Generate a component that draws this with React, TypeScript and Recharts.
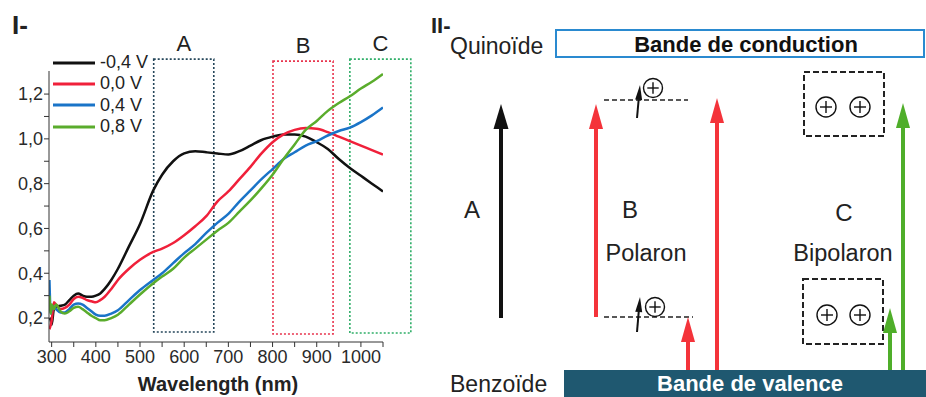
import { LineChart, Line, XAxis, YAxis, ReferenceArea } from "recharts";

const FONT = "'Liberation Sans', Arial, sans-serif";

// wavelengths (nm)
const wavelengths = [
  295, 298, 300, 305, 310, 320, 330, 340, 350, 360, 370, 380, 390, 400, 410,
  420, 435, 450, 475, 500, 530, 550, 575, 600, 625, 650, 675, 700, 725, 750,
  775, 800, 825, 850, 875, 900, 925, 950, 975, 1000, 1025, 1050,
];

const absM04 = [
  0.2, 0.19, 0.17, 0.24, 0.25, 0.255, 0.26, 0.28, 0.3, 0.31, 0.3, 0.295, 0.295,
  0.3, 0.31, 0.33, 0.37, 0.42, 0.52, 0.62, 0.77, 0.84, 0.9, 0.935, 0.945, 0.94,
  0.935, 0.93, 0.945, 0.97, 0.995, 1.01, 1.02, 1.02, 1.01, 0.985, 0.955, 0.91,
  0.87, 0.835, 0.8, 0.765,
];
const abs00 = [
  0.15, 0.17, 0.19, 0.27, 0.26, 0.24, 0.245, 0.26, 0.285, 0.295, 0.29, 0.28,
  0.275, 0.27, 0.28, 0.295, 0.33, 0.37, 0.42, 0.46, 0.495, 0.51, 0.535, 0.57,
  0.61, 0.655, 0.72, 0.765, 0.82, 0.875, 0.935, 0.985, 1.02, 1.04, 1.048,
  1.045, 1.03, 1.01, 0.99, 0.97, 0.95, 0.93,
];
const abs04 = [
  0.37, 0.22, 0.25, 0.25, 0.24, 0.225, 0.225, 0.24, 0.26, 0.265, 0.26, 0.245,
  0.23, 0.215, 0.21, 0.21, 0.22, 0.235, 0.28, 0.325, 0.37, 0.4, 0.445, 0.49,
  0.53, 0.58, 0.625, 0.665, 0.72, 0.77, 0.82, 0.865, 0.91, 0.94, 0.97, 0.99,
  1.015, 1.035, 1.05, 1.075, 1.105, 1.14,
];
const abs08 = [
  0.3, 0.22, 0.26, 0.24, 0.26, 0.23, 0.22, 0.23, 0.245, 0.25, 0.24, 0.225,
  0.21, 0.2, 0.19, 0.19, 0.2, 0.215, 0.26, 0.305, 0.355, 0.385, 0.42, 0.47,
  0.51, 0.55, 0.59, 0.625, 0.675, 0.725, 0.78, 0.84, 0.91, 0.975, 1.04, 1.08,
  1.125, 1.16, 1.19, 1.225, 1.255, 1.29,
];

const series = [
  { key: "m04", name: "-0,4 V", color: "#111111", values: absM04 },
  { key: "p00", name: "0,0 V", color: "#f0203a", values: abs00 },
  { key: "p04", name: "0,4 V", color: "#1a74c8", values: abs04 },
  { key: "p08", name: "0,8 V", color: "#5aac2c", values: abs08 },
];

const xTicks = [300, 350, 400, 450, 500, 550, 600, 650, 700, 750, 800, 850, 900, 950, 1000, 1050];
const yTicks = [0.2, 0.3, 0.4, 0.5, 0.6, 0.7, 0.8, 0.9, 1.0, 1.1, 1.2];
const yLabelled = [0.2, 0.4, 0.6, 0.8, 1.0, 1.2];

// dotted zones A, B, C (nm / absorbance)
const zones = [
  { label: "A", x1: 531, x2: 667, y1: 0.1375, y2: 1.356, color: "#24465a" },
  { label: "B", x1: 801, x2: 937, y1: 0.129, y2: 1.347, color: "#e8344e" },
  { label: "C", x1: 975, x2: 1113, y1: 0.133, y2: 1.356, color: "#2fae68" },
];

const data = wavelengths.map((w, i) => {
  const row: Record<string, number> = { w };
  series.forEach((s) => (row[s.key] = s.values[i]));
  return row;
});

function Arrow({ x, y1, y2, color, w = 4, hw = 15, hl = 25 }: any) {
  return (
    <g>
      <line x1={x} y1={y1} x2={x} y2={y2 + hl - 2} stroke={color} strokeWidth={w} />
      <polygon points={`${x},${y2} ${x - hw / 2},${y2 + hl} ${x + hw / 2},${y2 + hl}`} fill={color} />
    </g>
  );
}

function Spin({ x1, y1, x2, y2 }: any) {
  const ang = Math.atan2(y2 - y1, x2 - x1);
  const hl = 15;
  const hw = 3.5;
  const bx = x2 - hl * Math.cos(ang);
  const by = y2 - hl * Math.sin(ang);
  const px = -Math.sin(ang) * hw;
  const py = Math.cos(ang) * hw;
  return (
    <g>
      <line x1={x1} y1={y1} x2={bx} y2={by} stroke="#111" strokeWidth={2} />
      <polygon points={`${x2},${y2} ${bx + px},${by + py} ${bx - px},${by - py}`} fill="#111" />
    </g>
  );
}

function Plus({ cx, cy, r = 10 }: any) {
  const a = r * 0.6;
  return (
    <g stroke="#111" strokeWidth={1.4} fill="none">
      <circle cx={cx} cy={cy} r={r} />
      <line x1={cx - a} y1={cy} x2={cx + a} y2={cy} />
      <line x1={cx} y1={cy - a} x2={cx} y2={cy + a} />
    </g>
  );
}

function Diagram() {
  return (
    <svg width={926} height={397} style={{ position: "absolute", left: 0, top: 0 }} fontFamily={FONT}>
      <text x={12} y={34} fontSize={26} fontWeight="bold" fill="#222">I-</text>
      <text x={218} y={391} fontSize={20} fontWeight="bold" textAnchor="middle" fill="#222">
        Wavelength (nm)
      </text>
      <text x={431} y={33} fontSize={22} fontWeight="bold" fill="#222">II-</text>

      <text x={450} y={54} fontSize={23} fill="#222">Quinoïde</text>
      <rect x={556} y={30} width={368} height={27} fill="#fff" stroke="#2a8ad0" strokeWidth={2} />
      <text x={746} y={52} fontSize={22} fontWeight="bold" textAnchor="middle" fill="#111">
        Bande de conduction
      </text>

      <text x={450} y={392} fontSize={23} fill="#222">Benzoïde</text>
      <rect x={564} y={370} width={362} height={27} fill="#1f5870" />
      <text x={750} y={391} fontSize={22} fontWeight="bold" textAnchor="middle" fill="#fff">
        Bande de valence
      </text>

      <Arrow x={501} y1={318} y2={104} color="#111" />
      <text x={472} y={218} fontSize={24} textAnchor="middle" fill="#222">A</text>

      <Arrow x={596} y1={317} y2={104} color="#f4333a" w={4} hw={14} />
      <text x={630} y={218} fontSize={24} textAnchor="middle" fill="#222">B</text>
      <text x={646} y={261} fontSize={23.5} textAnchor="middle" fill="#222">Polaron</text>

      <line x1={604} y1={100} x2={688} y2={100} stroke="#222" strokeWidth={1.6} strokeDasharray="5 3" />
      <line x1={604} y1={317} x2={693} y2={317} stroke="#222" strokeWidth={1.6} strokeDasharray="5 3" />
      <Spin x1={637} y1={118} x2={640} y2={85} />
      <Spin x1={637} y1={332} x2={640} y2={297} />
      <Plus cx={653} cy={88} r={9.5} />
      <Plus cx={655} cy={307} r={9.5} />

      <Arrow x={717} y1={370} y2={98} color="#f4333a" w={4} hw={14} />
      <Arrow x={688} y1={370} y2={317} color="#f4333a" w={4} hw={14} />

      <text x={844} y={221} fontSize={24} textAnchor="middle" fill="#222">C</text>
      <text x={843} y={261} fontSize={23.5} textAnchor="middle" fill="#222">Bipolaron</text>
      <rect x={804} y={72} width={80} height={64} fill="none" stroke="#222" strokeWidth={2} strokeDasharray="6 3" />
      <rect x={803} y={279} width={80} height={65} fill="none" stroke="#222" strokeWidth={2} strokeDasharray="6 3" />
      <Plus cx={826} cy={107} />
      <Plus cx={860} cy={107} />
      <Plus cx={827} cy={315} />
      <Plus cx={860} cy={315} />

      <Arrow x={903} y1={370} y2={103} color="#4fae2a" w={4} hw={14} />
      <Arrow x={890} y1={370} y2={308} color="#4fae2a" w={4} hw={14} />
    </svg>
  );
}

function LegendBox() {
  return (
    <div style={{ position: "absolute", left: 53, top: 52, fontFamily: FONT, fontSize: 18, color: "#222" }}>
      {series.map((s) => (
        <div key={s.key} style={{ display: "flex", alignItems: "center", height: 21.3 }}>
          <svg width={44} height={6} style={{ marginRight: 3 }}>
            <line x1={0} y1={3} x2={42} y2={3} stroke={s.color} strokeWidth={3} />
          </svg>
          <span style={{ lineHeight: "21px" }}>{s.name}</span>
        </div>
      ))}
    </div>
  );
}

export default function App() {
  const tickStyle = { fontSize: 18, fill: "#2a2a2a", fontFamily: FONT };
  return (
    <div style={{ position: "absolute", left: 0, top: 0, width: 926, height: 397, background: "#fff" }}>
      <Diagram />
      <div style={{ position: "absolute", left: 0, top: 0 }}>
        <LineChart width={430} height={397} data={data} margin={{ top: 71, right: 47, bottom: 25, left: 0 }}>
          <XAxis
            dataKey="w"
            type="number"
            domain={[294, 1050]}
            allowDataOverflow
            ticks={xTicks}
            tickFormatter={(v: number) => (v % 100 === 0 ? String(v) : "")}
            tick={tickStyle}
            tickSize={5}
            tickMargin={3}
            height={30}
            stroke="#333"
            interval={0}
          />
          <YAxis
            type="number"
            domain={[0.093, 1.303]}
            allowDataOverflow
            ticks={yTicks}
            tickFormatter={(v: number) =>
              yLabelled.some((t) => Math.abs(t - v) < 1e-6) ? v.toFixed(1).replace(".", ",") : ""
            }
            tick={tickStyle}
            tickSize={5}
            tickMargin={1}
            width={49}
            stroke="#333"
            interval={0}
          />
          {zones.map((z) => (
            <ReferenceArea
              key={z.label}
              x1={z.x1}
              x2={z.x2}
              y1={z.y1}
              y2={z.y2}
              ifOverflow="visible"
              fill="none"
              fillOpacity={0}
              stroke={z.color}
              strokeWidth={1.6}
              strokeDasharray="2 2"
              label={{ value: z.label, position: "top", offset: 8, fontSize: 22, fill: "#222", fontFamily: FONT }}
            />
          ))}
          {series.map((s) => (
            <Line
              key={s.key}
              dataKey={s.key}
              type="monotone"
              stroke={s.color}
              strokeWidth={2.5}
              dot={false}
              isAnimationActive={false}
            />
          ))}
        </LineChart>
      </div>
      <LegendBox />
    </div>
  );
}
